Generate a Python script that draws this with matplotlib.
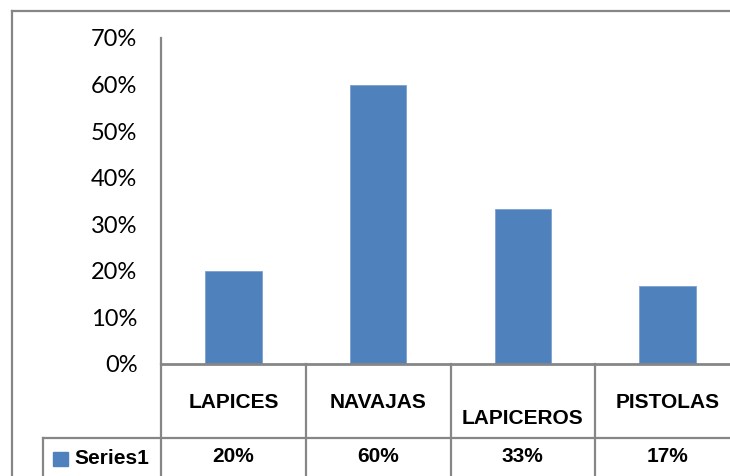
import matplotlib
matplotlib.use("Agg")
import matplotlib.pyplot as plt
from matplotlib.lines import Line2D
from matplotlib.patches import Rectangle

categories = ["LAPICES", "NAVAJAS", "LAPICEROS", "PISTOLAS"]
values = [20, 60, 33.33, 16.67]
value_labels = ["20%", "60%", "33%", "17%"]
series_name = "Series1"
yticks = [0, 10, 20, 30, 40, 50, 60, 70]

W, H = 730, 476
plt.rcParams['font.family'] = ['Lato', 'DejaVu Sans']
fig = plt.figure(figsize=(W / 100, H / 100), dpi=100)

def fx(px):
    return px / W

def fy(py):
    return 1 - py / H

left, right, top, bottom = 161, 740, 38, 364
ax = fig.add_axes([fx(left), fy(bottom), fx(right) - fx(left), fy(top) - fy(bottom)])
bar_color = "#4F81BD"
ax.bar(range(len(categories)), values, width=0.39, color=bar_color,
       edgecolor="#7FA0CF", linewidth=0.6, zorder=2)
ax.set_xlim(-0.5, len(categories) - 0.5)
ax.set_ylim(0, 70)
ax.set_yticks(yticks)
ax.set_yticklabels([f"{t}%" for t in yticks], fontsize=17)
ax.tick_params(axis='y', length=0, pad=17)
ax.set_xticks([])
for s in ["top", "right", "bottom"]:
    ax.spines[s].set_visible(False)
ax.spines["left"].set_color("#868686")
ax.spines["left"].set_linewidth(1.6)

grey = "#868686"
def hline(y, x0, x1, lw=1.6):
    fig.add_artist(Line2D([fx(x0), fx(x1)], [fy(y), fy(y)], color=grey, lw=lw))

def vline(x, y0, y1, lw=1.6):
    fig.add_artist(Line2D([fx(x), fx(x)], [fy(y0), fy(y1)], color=grey, lw=lw))

# outer chart border
hline(11, 12, 740)
vline(12, 11, 480)

# data table lines
hline(bottom, left, 740, lw=2)
hline(438, 43, 740)
col_w = (right - left) / len(categories)
for i in range(len(categories)):
    vline(left + i * col_w, bottom, 480)
vline(43, 438, 480)

bold = dict(family=['Liberation Sans', 'DejaVu Sans'], fontweight="bold", fontsize=15)

# category labels and values
for i, (c, v) in enumerate(zip(categories, value_labels)):
    xc = left + (i + 0.5) * col_w
    cy = 418 if c == "LAPICEROS" else 403
    fig.text(fx(xc), fy(cy), c, ha="center", va="center", **bold)
    fig.text(fx(xc), fy(457), v, ha="center", va="center", **bold)

# legend key in table
fig.add_artist(Rectangle((fx(53), fy(466)), fx(15), fy(452) - fy(466), color=bar_color,
                         transform=fig.transFigure))
fig.text(fx(74), fy(458), series_name, ha="left", va="center", **bold)

fig.savefig("out.png", dpi=100)
